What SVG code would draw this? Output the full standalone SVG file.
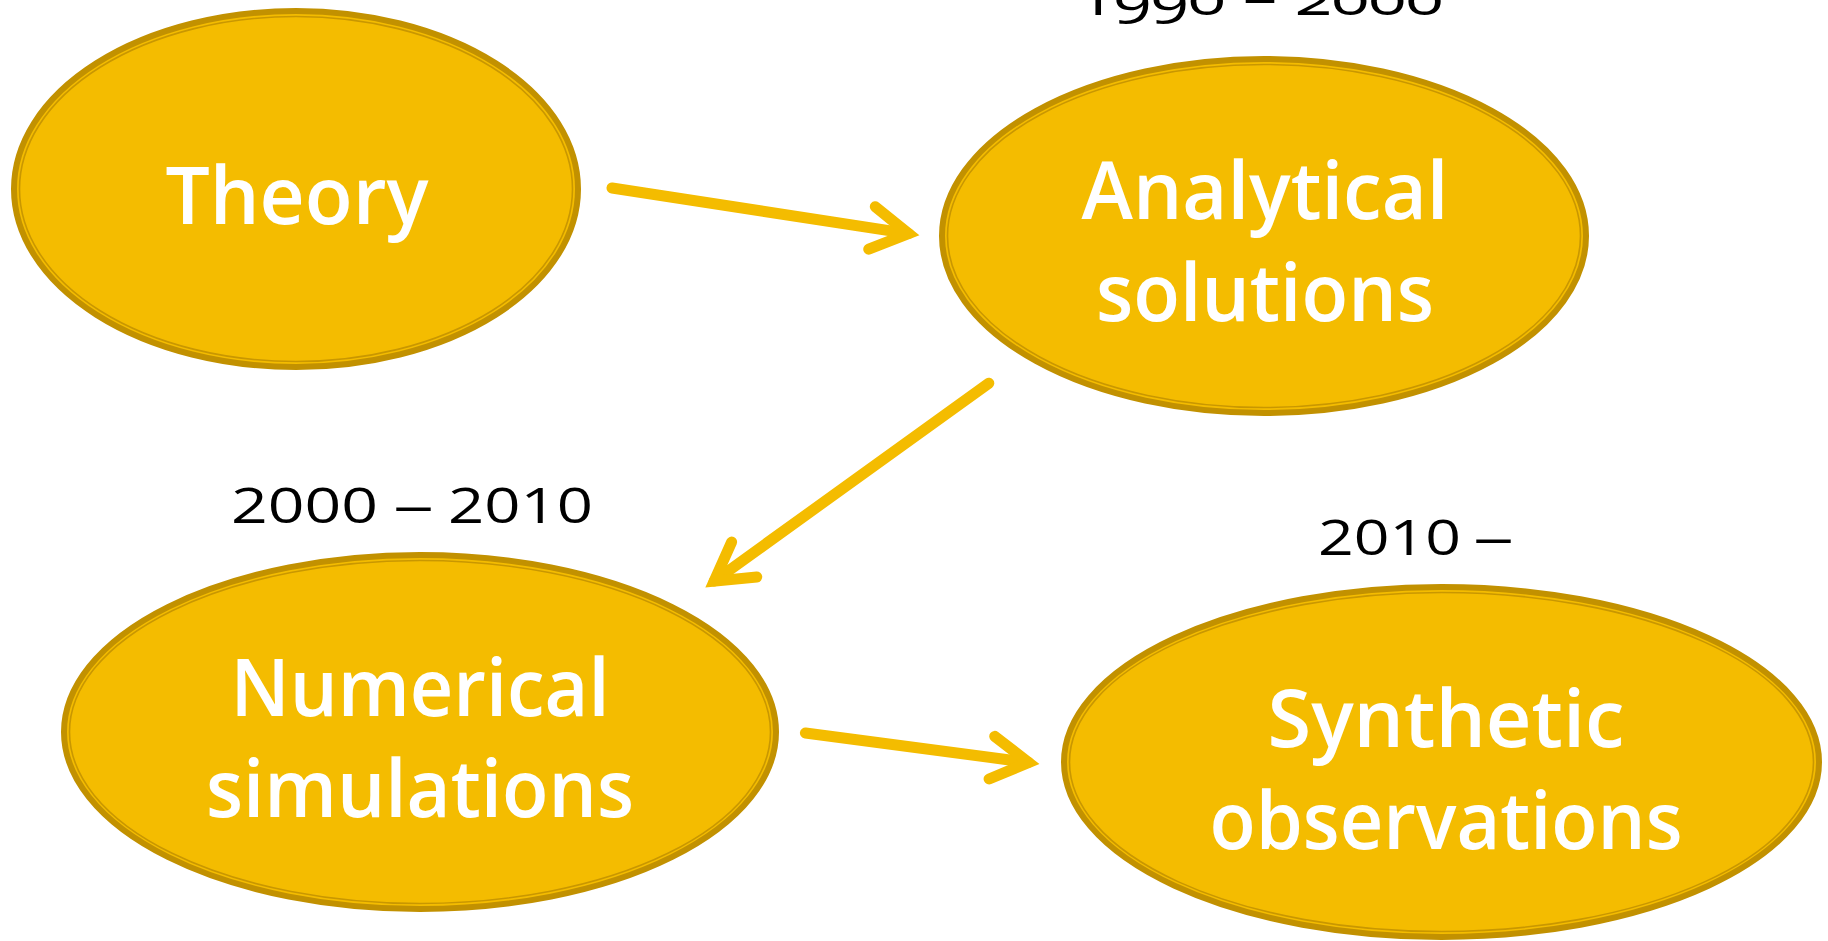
<svg xmlns="http://www.w3.org/2000/svg" width="1828" height="941" viewBox="0 0 1828 941">
  <defs>
    <style>
      .ring{fill:#F4BC00;stroke:#C29100;stroke-width:6}
      .ring-inner{fill:none;stroke:#C99700;stroke-width:1.6}
      .label{font-family:"Open Sans","Liberation Sans",sans-serif;font-weight:650;font-size:79px;fill:#FFFFFF;text-anchor:middle}
      .era{font-family:"Open Sans","Liberation Sans",sans-serif;font-weight:500;font-size:50px;fill:#000000}
      .oldstyle{font-variant-numeric:oldstyle-nums}
      .link{fill:none;stroke:#F4BC00;stroke-width:11;stroke-linecap:round}
    </style>
    <!-- open chevron arrowhead, sharp mitred tip -->
    <marker id="chevron" markerUnits="userSpaceOnUse" orient="auto" refX="0" refY="0" markerWidth="80" markerHeight="80" viewBox="-60 -40 80 80" overflow="visible">
      <path d="M -37 -21.5 L 0 0 L -37 21.5" fill="none" stroke="#F4BC00" stroke-width="11" stroke-linecap="round" stroke-linejoin="miter" stroke-miterlimit="10"/>
    </marker>
  </defs>

  <rect x="0" y="0" width="1828" height="941" fill="#FFFFFF"/>

  <!-- era captions -->
  <g id="eras">
    <text class="era oldstyle" x="1077" y="15" textLength="366" lengthAdjust="spacingAndGlyphs">1990 – 2000</text>
    <text class="era"><tspan x="231" y="523" textLength="147" lengthAdjust="spacingAndGlyphs">2000</tspan> <tspan x="393" y="523" textLength="41" lengthAdjust="spacingAndGlyphs">–</tspan> <tspan x="448" y="523" textLength="145" lengthAdjust="spacingAndGlyphs">2010</tspan></text>
    <text class="era"><tspan x="1318" y="555" textLength="143" lengthAdjust="spacingAndGlyphs">2010</tspan> <tspan x="1473" y="555" textLength="41" lengthAdjust="spacingAndGlyphs">–</tspan></text>
  </g>

  <!-- connectors -->
  <g id="connectors">
    <path class="link" d="M 612 188 L 908.6 233.6" marker-end="url(#chevron)"/>
    <path class="link" d="M 988.8 383.2 L 714.2 581.1" marker-end="url(#chevron)"/>
    <path class="link" d="M 805.4 733 L 1028.6 762.5" marker-end="url(#chevron)"/>
  </g>

  <g id="theory">
    <ellipse class="ring" cx="296" cy="189" rx="282" ry="178"/>
    <ellipse class="ring-inner" cx="296" cy="189" rx="276.5" ry="172.5"/>
    <text class="label" x="297" y="224" textLength="263" lengthAdjust="spacingAndGlyphs">Theory</text>
  </g>

  <g id="analytical-solutions">
    <ellipse class="ring" cx="1264" cy="236" rx="322" ry="177"/>
    <ellipse class="ring-inner" cx="1264" cy="236" rx="316.5" ry="171.5"/>
    <text class="label" x="1265" y="219" textLength="367" lengthAdjust="spacingAndGlyphs">Analytical</text>
    <text class="label" x="1265" y="321" textLength="338" lengthAdjust="spacingAndGlyphs">solutions</text>
  </g>

  <g id="numerical-simulations">
    <ellipse class="ring" cx="420" cy="732" rx="356" ry="177"/>
    <ellipse class="ring-inner" cx="420" cy="732" rx="350.5" ry="171.5"/>
    <text class="label" x="420" y="716" textLength="379" lengthAdjust="spacingAndGlyphs">Numerical</text>
    <text class="label" x="420" y="817" textLength="428" lengthAdjust="spacingAndGlyphs">simulations</text>
  </g>

  <g id="synthetic-observations">
    <ellipse class="ring" cx="1441.5" cy="762" rx="377.5" ry="175"/>
    <ellipse class="ring-inner" cx="1441.5" cy="762" rx="372" ry="169.5"/>
    <text class="label" x="1446" y="747" textLength="357" lengthAdjust="spacingAndGlyphs">Synthetic</text>
    <text class="label" x="1446" y="849" textLength="473" lengthAdjust="spacingAndGlyphs">observations</text>
  </g>
</svg>
